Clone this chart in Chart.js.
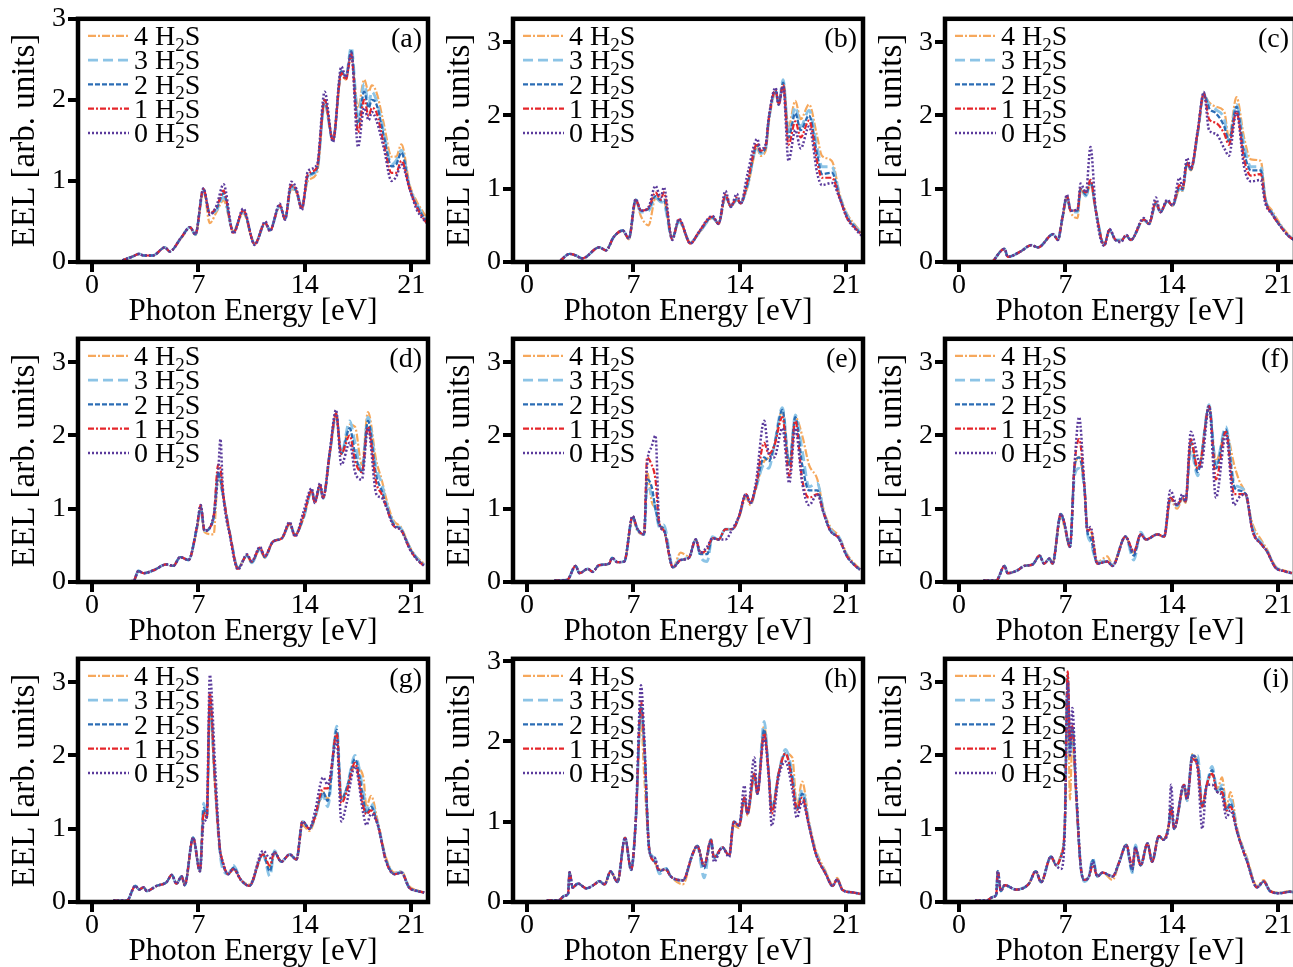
<!DOCTYPE html>
<html>
<head>
<meta charset="utf-8">
<script src="https://cdn.jsdelivr.net/npm/chart.js@4.4.1/dist/chart.umd.min.js"></script>
<style>
  html, body { margin: 0; padding: 0; background: #fff; width: 1293px; height: 967px; overflow: hidden; }
  canvas { position: absolute; }
</style>
</head>
<body>
<script>
// axis ticks and series names
const xTicks = [0, 7, 14, 21];
const yTicks = [0, 1, 2, 3];
const seriesLabels = ['4 H₂S', '3 H₂S', '2 H₂S', '1 H₂S', '0 H₂S'];

// (a)
const energyA = [2.0, 2.7, 3.1, 3.4, 4.0, 4.8, 5.1, 5.9, 6.45, 6.8, 7.33, 7.75, 8.2, 8.65, 9.3, 9.95, 10.7, 11.4, 11.7, 12.35, 12.7, 13.1, 13.45, 13.8, 14.2, 14.8, 15.3, 15.85, 16.4, 16.7, 17.05, 17.5, 17.9, 18.2, 18.4, 18.7, 19.2, 19.7, 20.0, 20.35, 20.9, 21.35, 22.0];
const eelA0 = [0.02,0.07,0.1,0.08,0.08,0.18,0.13,0.31,0.43,0.34,0.91,0.58,0.7,0.96,0.35,0.66,0.21,0.5,0.38,0.72,0.52,0.99,0.9,0.64,1.12,1.2,2.1,1.48,2.41,2.28,2.58,1.42,1.9,1.75,1.85,1.75,1.4,1.0,1.05,1.2,0.9,0.65,0.48];
const eelA1 = [0.02,0.07,0.1,0.08,0.08,0.18,0.13,0.31,0.43,0.34,0.9,0.6,0.68,0.88,0.36,0.64,0.22,0.49,0.38,0.7,0.53,0.95,0.88,0.66,1.08,1.17,2.0,1.5,2.33,2.25,2.56,1.6,2.0,1.8,1.9,1.85,1.45,1.1,1.1,1.25,0.9,0.68,0.48];
const eelA2 = [0.02,0.07,0.1,0.08,0.08,0.18,0.13,0.31,0.43,0.34,0.9,0.6,0.66,0.85,0.37,0.63,0.22,0.48,0.39,0.7,0.53,0.94,0.87,0.67,1.06,1.15,2.0,1.5,2.35,2.27,2.6,1.7,2.1,1.9,2.0,1.95,1.55,1.18,1.2,1.35,0.9,0.7,0.5];
const eelA3 = [0.02,0.07,0.1,0.08,0.08,0.18,0.13,0.31,0.43,0.34,0.88,0.6,0.64,0.8,0.38,0.62,0.23,0.47,0.4,0.69,0.54,0.92,0.86,0.68,1.05,1.13,1.95,1.5,2.35,2.28,2.65,1.8,2.2,1.95,2.1,2.0,1.6,1.2,1.25,1.38,0.92,0.72,0.52];
const eelA4 = [0.02,0.07,0.1,0.08,0.08,0.18,0.13,0.3,0.42,0.33,0.88,0.48,0.62,0.76,0.38,0.6,0.23,0.47,0.4,0.68,0.55,0.9,0.85,0.68,1.0,1.1,1.95,1.52,2.3,2.25,2.55,1.9,2.25,2.1,2.18,2.1,1.7,1.3,1.3,1.45,0.95,0.75,0.55];

// (b)
const energyB = [2.2, 2.8, 3.2, 3.65, 4.75, 5.2, 5.7, 6.3, 6.7, 7.15, 7.5, 8.0, 8.45, 8.8, 9.0, 9.55, 10.0, 10.75, 11.3, 12.2, 12.6, 13.05, 13.4, 13.8, 14.05, 14.5, 15.15, 15.35, 15.7, 15.9, 16.35, 16.55, 16.85, 17.2, 17.65, 18.0, 18.55, 19.1, 19.4, 20.05, 20.6, 21.05, 21.6, 22.0];
const eelB0 = [0.02,0.11,0.09,0.05,0.2,0.16,0.34,0.43,0.32,0.86,0.7,0.75,1.04,0.88,1.02,0.3,0.59,0.25,0.41,0.63,0.52,0.97,0.75,0.93,0.79,1.2,1.68,1.54,1.61,1.97,2.38,2.15,2.4,1.38,1.8,1.55,1.85,1.2,1.05,1.08,0.85,0.6,0.45,0.36];
const eelB1 = [0.02,0.11,0.09,0.05,0.2,0.16,0.34,0.43,0.32,0.85,0.7,0.74,0.95,0.85,0.95,0.31,0.58,0.25,0.41,0.62,0.52,0.92,0.76,0.88,0.8,1.1,1.62,1.52,1.58,1.95,2.35,2.15,2.42,1.6,1.92,1.7,1.93,1.35,1.15,1.15,0.85,0.6,0.46,0.37];
const eelB2 = [0.02,0.11,0.09,0.05,0.2,0.16,0.34,0.43,0.32,0.85,0.7,0.73,0.9,0.84,0.85,0.32,0.57,0.26,0.4,0.61,0.52,0.9,0.76,0.86,0.8,1.06,1.6,1.5,1.56,1.95,2.35,2.15,2.45,1.7,2.03,1.8,2.0,1.45,1.2,1.22,0.86,0.62,0.47,0.38];
const eelB3 = [0.02,0.11,0.09,0.05,0.2,0.16,0.34,0.43,0.32,0.84,0.68,0.7,0.88,0.82,0.8,0.33,0.55,0.27,0.39,0.6,0.53,0.88,0.77,0.84,0.81,1.04,1.58,1.48,1.55,1.93,2.33,2.17,2.49,1.75,2.12,1.85,2.07,1.55,1.3,1.3,0.88,0.64,0.48,0.39];
const eelB4 = [0.02,0.11,0.09,0.05,0.2,0.16,0.34,0.42,0.31,0.83,0.62,0.5,0.87,0.82,0.82,0.33,0.55,0.27,0.39,0.6,0.53,0.88,0.77,0.84,0.81,1.02,1.55,1.45,1.52,1.9,2.3,2.15,2.45,1.85,2.2,1.95,2.15,1.7,1.45,1.38,0.9,0.66,0.5,0.4];

// (c)
const energyC = [2.2, 3.0, 3.2, 4.1, 4.75, 5.2, 6.2, 6.5, 6.8, 7.1, 7.35, 7.8, 8.0, 8.35, 8.65, 9.0, 9.55, 9.9, 10.3, 10.65, 11.0, 11.3, 12.15, 12.5, 12.95, 13.25, 13.7, 14.05, 14.5, 14.7, 15.0, 15.25, 15.7, 16.1, 16.45, 16.9, 17.45, 17.75, 18.25, 18.75, 19.2, 19.85, 20.15, 20.6, 21.1, 21.7, 22.2];
const eelC0 = [0.0,0.18,0.07,0.15,0.23,0.2,0.38,0.3,0.6,0.92,0.7,0.72,1.07,0.95,1.57,0.7,0.22,0.45,0.3,0.27,0.37,0.3,0.6,0.52,0.88,0.68,0.85,0.77,1.15,1.02,1.42,1.28,1.8,2.32,1.8,1.75,1.55,1.45,2.05,1.3,1.1,1.12,0.8,0.65,0.5,0.35,0.28];
const eelC1 = [0.0,0.18,0.07,0.15,0.23,0.2,0.38,0.3,0.6,0.9,0.7,0.72,1.0,0.95,1.12,0.7,0.23,0.44,0.3,0.28,0.37,0.3,0.58,0.52,0.82,0.68,0.84,0.77,1.05,1.0,1.36,1.27,1.78,2.3,1.95,1.9,1.75,1.6,2.05,1.4,1.18,1.2,0.83,0.65,0.5,0.35,0.28];
const eelC2 = [0.0,0.18,0.07,0.15,0.23,0.2,0.38,0.3,0.6,0.9,0.7,0.7,1.0,0.92,1.1,0.7,0.23,0.44,0.3,0.29,0.36,0.3,0.58,0.52,0.8,0.68,0.83,0.77,1.02,0.99,1.35,1.26,1.77,2.3,2.1,2.03,1.85,1.65,2.12,1.5,1.25,1.25,0.85,0.66,0.5,0.35,0.28];
const eelC3 = [0.0,0.18,0.07,0.15,0.23,0.2,0.38,0.3,0.6,0.88,0.7,0.68,0.98,0.9,1.08,0.7,0.24,0.43,0.3,0.3,0.36,0.3,0.57,0.52,0.8,0.68,0.83,0.77,1.0,0.98,1.34,1.26,1.76,2.28,2.15,2.08,1.95,1.65,2.15,1.6,1.3,1.3,0.86,0.67,0.51,0.36,0.28];
const eelC4 = [0.0,0.18,0.07,0.15,0.23,0.2,0.38,0.3,0.58,0.88,0.68,0.6,0.98,0.9,1.06,0.7,0.24,0.43,0.3,0.3,0.36,0.3,0.57,0.52,0.8,0.68,0.83,0.77,0.98,0.97,1.33,1.25,1.75,2.28,2.18,2.12,2.05,1.7,2.25,1.7,1.4,1.38,0.88,0.7,0.53,0.37,0.29];

// (d)
const energyD = [2.0, 2.75, 3.05, 3.4, 4.05, 4.9, 5.35, 5.8, 6.35, 6.9, 7.15, 7.4, 8.0, 8.3, 8.45, 8.6, 9.1, 9.6, 10.2, 10.5, 11.05, 11.35, 11.9, 12.5, 13.0, 13.35, 13.9, 14.45, 14.65, 15.0, 15.2, 15.65, 16.05, 16.4, 16.95, 17.3, 17.75, 18.15, 18.7, 19.05, 19.4, 19.8, 20.35, 20.9, 21.4, 21.85];
const eelD0 = [0.0,0.02,0.15,0.12,0.16,0.24,0.22,0.34,0.3,0.75,1.05,0.7,0.9,1.5,1.95,1.3,0.6,0.17,0.38,0.28,0.48,0.35,0.55,0.6,0.82,0.62,0.95,1.28,1.08,1.35,1.15,1.8,2.35,1.6,1.9,1.5,1.4,2.1,1.2,1.15,1.0,0.78,0.7,0.45,0.3,0.22];
const eelD1 = [0.0,0.02,0.15,0.12,0.16,0.24,0.22,0.34,0.3,0.75,1.05,0.7,0.9,1.6,1.55,1.25,0.62,0.18,0.37,0.28,0.47,0.35,0.55,0.6,0.8,0.63,0.9,1.25,1.08,1.32,1.15,1.78,2.3,1.75,2.0,1.65,1.5,2.12,1.35,1.2,1.0,0.78,0.7,0.45,0.3,0.22];
const eelD2 = [0.0,0.02,0.15,0.12,0.16,0.24,0.22,0.34,0.3,0.75,1.03,0.7,0.88,1.5,1.4,1.2,0.62,0.19,0.36,0.27,0.46,0.34,0.55,0.6,0.8,0.64,0.88,1.25,1.1,1.32,1.15,1.78,2.3,1.75,2.1,1.75,1.5,2.2,1.45,1.25,1.02,0.8,0.71,0.46,0.31,0.23];
const eelD3 = [0.0,0.02,0.15,0.12,0.16,0.24,0.22,0.34,0.3,0.74,1.0,0.7,0.87,1.45,1.35,1.2,0.63,0.2,0.36,0.26,0.45,0.33,0.55,0.6,0.79,0.65,0.87,1.24,1.1,1.3,1.14,1.77,2.28,1.75,2.2,1.9,1.5,2.25,1.55,1.35,1.05,0.82,0.72,0.47,0.32,0.24];
const eelD4 = [0.0,0.02,0.15,0.12,0.16,0.24,0.22,0.34,0.3,0.72,1.0,0.68,0.65,1.45,1.35,1.2,0.63,0.2,0.36,0.26,0.45,0.33,0.55,0.6,0.78,0.65,0.86,1.22,1.1,1.3,1.14,1.75,2.25,1.75,2.15,2.12,1.6,2.32,1.65,1.4,1.1,0.85,0.74,0.48,0.33,0.25];

// (e)
const energyE = [1.8, 2.65, 3.2, 3.45, 4.0, 4.3, 4.75, 5.4, 5.6, 5.95, 6.4, 6.95, 7.25, 7.7, 7.9, 8.2, 8.45, 8.7, 9.0, 9.6, 10.1, 10.65, 11.1, 11.4, 11.85, 12.2, 12.6, 13.05, 13.5, 13.95, 14.4, 14.7, 15.05, 15.6, 15.9, 16.25, 16.8, 17.25, 17.65, 18.1, 18.55, 19.1, 19.5, 19.95, 20.5, 21.05, 21.6, 21.9];
const eelE0 = [0.02,0.03,0.22,0.12,0.18,0.14,0.23,0.25,0.33,0.27,0.28,0.9,0.73,0.65,1.6,1.85,2.0,0.8,0.7,0.2,0.3,0.33,0.58,0.4,0.48,0.6,0.58,0.58,0.72,0.9,1.2,1.08,1.35,2.2,1.75,1.7,2.1,1.35,2.1,1.35,1.05,1.2,0.95,0.7,0.6,0.35,0.22,0.17];
const eelE1 = [0.02,0.03,0.22,0.12,0.18,0.14,0.23,0.25,0.33,0.27,0.28,0.9,0.73,0.65,1.7,1.6,1.4,0.8,0.7,0.2,0.3,0.33,0.58,0.4,0.45,0.6,0.58,0.72,0.72,0.9,1.2,1.08,1.3,1.9,1.75,1.85,2.25,1.45,2.2,1.4,1.15,1.2,0.95,0.7,0.6,0.35,0.22,0.17];
const eelE2 = [0.02,0.03,0.22,0.12,0.18,0.14,0.23,0.25,0.33,0.27,0.28,0.9,0.73,0.65,1.4,1.3,1.0,0.78,0.72,0.2,0.3,0.33,0.58,0.38,0.38,0.6,0.58,0.72,0.72,0.9,1.2,1.08,1.3,1.7,1.65,1.85,2.35,1.6,2.25,1.6,1.25,1.25,0.95,0.7,0.6,0.35,0.22,0.17];
const eelE3 = [0.02,0.03,0.22,0.12,0.18,0.14,0.23,0.25,0.33,0.27,0.28,0.88,0.72,0.65,1.3,1.2,1.0,0.75,0.78,0.2,0.32,0.33,0.58,0.35,0.28,0.62,0.58,0.72,0.72,0.9,1.18,1.07,1.28,1.6,1.55,1.85,2.38,1.6,2.28,1.8,1.3,1.35,0.97,0.72,0.62,0.36,0.22,0.17];
const eelE4 = [0.02,0.03,0.22,0.12,0.18,0.14,0.23,0.25,0.33,0.27,0.28,0.88,0.7,0.65,1.5,1.1,1.0,0.8,0.72,0.2,0.4,0.35,0.58,0.4,0.4,0.6,0.58,0.72,0.72,0.88,1.15,1.05,1.27,1.65,1.7,1.85,2.35,1.6,2.25,2.0,1.6,1.4,1.0,0.75,0.63,0.38,0.24,0.18];

// (f)
const energyF = [1.6, 2.45, 3.0, 3.2, 3.85, 4.3, 4.85, 5.3, 5.6, 5.95, 6.15, 6.7, 6.9, 7.3, 7.6, 7.9, 8.25, 8.45, 8.65, 9.1, 9.75, 10.1, 10.95, 11.5, 11.95, 12.3, 13.05, 13.5, 13.9, 14.35, 14.7, 14.9, 15.25, 15.7, 15.9, 16.45, 16.9, 17.55, 18.1, 18.4, 18.85, 19.3, 19.95, 20.25, 20.8, 21.35, 21.9];
const eelF0 = [0.02,0.02,0.22,0.12,0.16,0.22,0.24,0.36,0.25,0.32,0.25,0.93,0.83,0.48,1.6,2.25,1.3,0.7,0.75,0.25,0.28,0.22,0.62,0.4,0.65,0.58,0.65,0.62,1.25,1.05,1.2,1.1,2.05,1.7,1.55,2.4,1.15,2.0,1.05,1.15,1.2,0.7,0.5,0.42,0.2,0.15,0.12];
const eelF1 = [0.02,0.02,0.22,0.12,0.16,0.22,0.24,0.36,0.25,0.32,0.25,0.93,0.83,0.48,1.6,1.95,1.3,0.7,0.72,0.25,0.28,0.22,0.62,0.42,0.65,0.58,0.65,0.62,1.15,1.05,1.15,1.1,1.95,1.55,1.65,2.4,1.4,2.05,1.2,1.2,1.2,0.7,0.5,0.42,0.2,0.15,0.12];
const eelF2 = [0.02,0.02,0.22,0.12,0.16,0.22,0.24,0.36,0.25,0.32,0.25,0.93,0.83,0.48,1.58,1.7,1.3,0.68,0.6,0.25,0.28,0.22,0.62,0.36,0.65,0.58,0.65,0.62,1.15,1.05,1.15,1.1,1.92,1.5,1.65,2.4,1.55,2.08,1.3,1.25,1.2,0.72,0.5,0.42,0.2,0.15,0.12];
const eelF3 = [0.02,0.02,0.22,0.12,0.16,0.22,0.24,0.36,0.25,0.32,0.25,0.92,0.82,0.48,1.45,1.55,1.28,0.66,0.55,0.26,0.3,0.23,0.62,0.3,0.68,0.58,0.65,0.62,1.14,1.04,1.15,1.1,1.8,1.45,1.65,2.42,1.6,2.12,1.35,1.3,1.22,0.75,0.52,0.43,0.21,0.15,0.12];
const eelF4 = [0.02,0.02,0.22,0.12,0.16,0.22,0.24,0.36,0.25,0.32,0.25,0.9,0.78,0.48,1.55,1.7,1.28,0.7,0.7,0.27,0.35,0.24,0.62,0.4,0.65,0.58,0.65,0.62,1.12,1.0,1.13,1.08,1.9,1.55,1.65,2.38,1.65,2.05,1.6,1.4,1.2,0.8,0.55,0.45,0.22,0.16,0.13];

// (g)
const energyG = [1.4, 2.3, 2.85, 3.1, 3.4, 3.6, 4.25, 4.9, 5.25, 5.55, 5.9, 6.1, 6.65, 7.1, 7.35, 7.55, 7.75, 8.1, 8.4, 8.6, 8.95, 9.3, 9.8, 10.35, 11.25, 11.7, 12.0, 12.45, 13.0, 13.45, 13.85, 14.3, 14.65, 15.2, 15.5, 16.1, 16.4, 16.75, 17.3, 17.85, 18.05, 18.35, 18.8, 19.35, 19.9, 20.35, 20.85, 21.4, 21.85];
const eelG0 = [0.02,0.02,0.22,0.17,0.2,0.15,0.22,0.27,0.37,0.25,0.35,0.23,0.88,0.42,1.1,1.15,3.1,1.85,0.75,0.55,0.38,0.45,0.3,0.22,0.7,0.6,0.68,0.55,0.65,0.58,1.1,1.0,1.22,1.7,1.6,2.2,1.1,1.35,1.85,1.2,1.05,1.2,1.05,0.55,0.38,0.4,0.2,0.15,0.13];
const eelG1 = [0.02,0.02,0.22,0.17,0.2,0.15,0.22,0.27,0.37,0.25,0.35,0.23,0.88,0.42,1.22,1.15,2.85,1.6,0.75,0.55,0.38,0.45,0.3,0.22,0.65,0.5,0.68,0.55,0.65,0.58,1.1,1.0,1.15,1.55,1.55,2.3,1.35,1.5,1.9,1.3,1.2,1.25,1.05,0.55,0.38,0.4,0.2,0.15,0.13];
const eelG2 = [0.02,0.02,0.22,0.17,0.2,0.15,0.22,0.27,0.37,0.25,0.35,0.23,0.88,0.42,1.28,1.15,2.75,1.6,0.75,0.52,0.38,0.47,0.3,0.22,0.65,0.42,0.68,0.55,0.65,0.58,1.1,1.0,1.15,1.5,1.38,2.35,1.4,1.55,1.95,1.4,1.2,1.3,1.05,0.56,0.38,0.4,0.2,0.15,0.13];
const eelG3 = [0.02,0.02,0.22,0.17,0.2,0.15,0.22,0.27,0.37,0.25,0.35,0.23,0.88,0.42,1.35,1.15,2.7,1.6,0.7,0.45,0.38,0.5,0.3,0.22,0.65,0.35,0.7,0.55,0.65,0.58,1.1,1.0,1.15,1.45,1.3,2.4,1.4,1.55,2.0,1.5,1.25,1.35,1.07,0.57,0.39,0.41,0.2,0.15,0.13];
const eelG4 = [0.02,0.02,0.22,0.17,0.2,0.15,0.22,0.27,0.37,0.25,0.35,0.23,0.86,0.42,1.25,1.15,2.6,1.55,0.75,0.55,0.38,0.45,0.3,0.24,0.65,0.48,0.68,0.55,0.65,0.58,1.05,0.97,1.12,1.5,1.4,2.3,1.4,1.55,1.85,1.7,1.3,1.45,1.1,0.6,0.4,0.42,0.22,0.16,0.13];

// (h)
const energyH = [1.3, 2.05, 2.5, 2.7, 2.8, 3.0, 3.35, 3.9, 4.45, 4.75, 5.1, 5.5, 5.95, 6.45, 6.85, 7.15, 7.5, 7.7, 8.05, 8.4, 8.7, 9.15, 9.45, 10.25, 10.9, 11.2, 11.65, 12.1, 12.3, 12.85, 13.3, 13.6, 13.95, 14.3, 14.5, 14.95, 15.15, 15.6, 15.9, 16.1, 16.55, 17.0, 17.45, 17.75, 18.1, 18.55, 19.0, 19.65, 20.1, 20.4, 20.75, 21.4, 21.95];
const eelH0 = [0.02,0.02,0.08,0.1,0.37,0.18,0.23,0.17,0.22,0.26,0.22,0.38,0.25,0.8,0.4,1.0,2.7,2.1,0.62,0.55,0.4,0.4,0.32,0.27,0.6,0.7,0.45,0.75,0.5,0.68,0.56,1.0,0.95,1.45,1.1,1.8,1.35,2.05,1.55,0.95,1.55,1.75,1.4,1.05,1.25,0.95,0.6,0.35,0.2,0.28,0.15,0.12,0.1];
const eelH1 = [0.02,0.02,0.08,0.1,0.37,0.18,0.23,0.17,0.22,0.26,0.22,0.38,0.25,0.8,0.4,1.0,2.5,2.0,0.65,0.5,0.4,0.4,0.32,0.27,0.6,0.7,0.45,0.78,0.55,0.68,0.58,1.0,0.95,1.3,1.1,1.6,1.35,2.1,1.6,1.1,1.6,1.85,1.5,1.15,1.3,0.95,0.6,0.35,0.2,0.28,0.15,0.12,0.1];
const eelH2 = [0.02,0.02,0.08,0.1,0.37,0.18,0.23,0.17,0.22,0.26,0.22,0.38,0.25,0.8,0.4,1.0,2.45,2.0,0.65,0.5,0.38,0.42,0.32,0.27,0.6,0.7,0.42,0.78,0.55,0.68,0.58,1.0,0.95,1.3,1.1,1.6,1.35,2.15,1.6,1.15,1.6,1.85,1.55,1.15,1.35,0.95,0.6,0.35,0.2,0.28,0.15,0.12,0.1];
const eelH3 = [0.02,0.02,0.08,0.1,0.37,0.18,0.23,0.17,0.22,0.26,0.22,0.38,0.25,0.8,0.4,1.0,2.4,2.0,0.65,0.55,0.35,0.42,0.32,0.27,0.6,0.7,0.3,0.78,0.55,0.68,0.58,1.0,0.95,1.28,1.1,1.58,1.35,2.25,1.6,1.15,1.6,1.9,1.6,1.15,1.4,0.97,0.62,0.36,0.2,0.28,0.15,0.12,0.1];
const eelH4 = [0.02,0.02,0.08,0.1,0.37,0.18,0.23,0.17,0.22,0.26,0.22,0.38,0.25,0.8,0.4,1.0,2.3,1.6,0.65,0.5,0.4,0.4,0.32,0.22,0.6,0.7,0.45,0.75,0.55,0.68,0.58,0.95,0.92,1.28,1.08,1.55,1.35,2.2,1.6,1.15,1.6,1.85,1.8,1.2,1.5,1.0,0.65,0.38,0.22,0.3,0.16,0.12,0.1];

// (i)
const energyI = [1.05, 1.8, 2.25, 2.45, 2.55, 2.75, 3.0, 3.75, 4.6, 5.05, 5.4, 6.05, 6.4, 6.7, 6.95, 7.15, 7.3, 7.45, 7.7, 8.0, 8.25, 8.55, 8.8, 9.1, 9.45, 10.1, 10.55, 11.0, 11.4, 11.6, 11.95, 12.4, 12.7, 13.15, 13.45, 13.8, 13.95, 14.15, 14.8, 15.0, 15.35, 15.7, 16.0, 16.3, 16.65, 17.0, 17.3, 17.6, 17.85, 18.3, 18.95, 19.6, 20.05, 20.45, 21.1, 21.75, 22.2];
const eelI0 = [0.02,0.02,0.07,0.1,0.42,0.15,0.23,0.17,0.25,0.42,0.27,0.62,0.5,0.45,0.9,3.0,2.0,2.65,1.6,0.5,0.3,0.35,0.55,0.35,0.4,0.35,0.55,0.78,0.45,0.75,0.5,0.8,0.55,0.9,0.85,1.05,1.6,1.0,1.6,1.4,2.0,1.8,1.0,1.6,1.6,1.5,1.45,1.15,1.25,0.95,0.55,0.2,0.28,0.15,0.12,0.14,0.13];
const eelI1 = [0.02,0.02,0.07,0.1,0.42,0.15,0.23,0.17,0.25,0.42,0.27,0.62,0.5,0.62,1.0,3.15,2.2,2.4,1.5,0.5,0.3,0.35,0.5,0.35,0.4,0.35,0.55,0.78,0.5,0.72,0.5,0.8,0.55,0.9,0.85,1.05,1.3,1.0,1.6,1.4,1.95,1.85,1.3,1.6,1.75,1.5,1.5,1.25,1.3,0.95,0.55,0.2,0.28,0.15,0.12,0.14,0.13];
const eelI2 = [0.02,0.02,0.07,0.1,0.42,0.15,0.23,0.17,0.25,0.42,0.27,0.62,0.5,0.62,1.0,3.1,2.1,2.4,1.5,0.5,0.3,0.35,0.57,0.35,0.4,0.35,0.55,0.78,0.42,0.75,0.5,0.8,0.55,0.9,0.85,1.05,1.3,1.0,1.6,1.4,2.0,1.9,1.3,1.6,1.8,1.5,1.55,1.25,1.35,0.95,0.55,0.2,0.28,0.15,0.12,0.14,0.13];
const eelI3 = [0.02,0.02,0.07,0.1,0.42,0.15,0.23,0.17,0.25,0.42,0.27,0.62,0.5,0.62,1.0,3.05,2.0,2.4,1.5,0.5,0.28,0.35,0.6,0.35,0.4,0.35,0.55,0.78,0.4,0.78,0.5,0.8,0.55,0.9,0.85,1.05,1.3,1.0,1.58,1.38,2.0,2.0,1.3,1.6,1.85,1.5,1.6,1.25,1.4,0.97,0.57,0.2,0.28,0.15,0.12,0.14,0.13];
const eelI4 = [0.02,0.02,0.07,0.1,0.42,0.15,0.23,0.17,0.25,0.42,0.27,0.62,0.5,0.65,1.0,2.9,1.4,2.2,1.5,0.5,0.3,0.35,0.55,0.35,0.4,0.3,0.55,0.78,0.45,0.75,0.5,0.8,0.55,0.9,0.85,1.05,1.3,1.0,1.55,1.38,2.02,1.85,1.3,1.6,1.75,1.55,1.7,1.3,1.5,1.0,0.6,0.22,0.3,0.16,0.13,0.15,0.14];

const panels = [
    { tag: '(a)', energy: energyA, eel: [eelA4, eelA3, eelA2, eelA1, eelA0], yMax: 3.0 },
    { tag: '(b)', energy: energyB, eel: [eelB4, eelB3, eelB2, eelB1, eelB0], yMax: 3.32 },
    { tag: '(c)', energy: energyC, eel: [eelC4, eelC3, eelC2, eelC1, eelC0], yMax: 3.32 },
    { tag: '(d)', energy: energyD, eel: [eelD4, eelD3, eelD2, eelD1, eelD0], yMax: 3.32 },
    { tag: '(e)', energy: energyE, eel: [eelE4, eelE3, eelE2, eelE1, eelE0], yMax: 3.32 },
    { tag: '(f)', energy: energyF, eel: [eelF4, eelF3, eelF2, eelF1, eelF0], yMax: 3.32 },
    { tag: '(g)', energy: energyG, eel: [eelG4, eelG3, eelG2, eelG1, eelG0], yMax: 3.32 },
    { tag: '(h)', energy: energyH, eel: [eelH4, eelH3, eelH2, eelH1, eelH0], yMax: 3.03 },
    { tag: '(i)', energy: energyI, eel: [eelI4, eelI3, eelI2, eelI1, eelI0], yMax: 3.32 },
];

// line styles, same order as seriesLabels
const seriesColors = ['#f6a85c', '#8cc4e6', '#2b6db5', '#e5262b', '#5b3b9c'];
const seriesDashes = [[8, 2, 2, 2], [10, 5], [5, 2], [6, 2, 2, 2], [2, 2]];
const seriesWidths = [2.2, 2.8, 2.3, 2.2, 2.5];

const serif = "'Liberation Serif', 'DejaVu Serif', serif";
const colLeft = [78, 513, 945];   // left edge of each plot frame
const rowTop = [18, 338, 658];    // top edge of each plot frame

// frame, legend and panel tag
const panelDecor = {
    id: 'panelDecor',
    afterDraw(chart, args, opts) {
        const { ctx, chartArea: a } = chart;
        ctx.save();
        chart.data.datasets.forEach((ds, i) => {
            const y = a.top + 17 + i * 24.3;
            ctx.strokeStyle = ds.borderColor;
            ctx.lineWidth = ds.borderWidth;
            ctx.setLineDash(ds.borderDash);
            ctx.beginPath();
            ctx.moveTo(a.left + 10, y);
            ctx.lineTo(a.left + 51, y);
            ctx.stroke();

            // "4 H" + subscript "2" + "S"
            const parts = ds.label.split('₂');
            ctx.setLineDash([]);
            ctx.fillStyle = '#000';
            ctx.textBaseline = 'middle';
            ctx.textAlign = 'left';
            ctx.font = '28px ' + serif;
            let x = a.left + 56;
            ctx.fillText(parts[0], x, y + 2);
            x += ctx.measureText(parts[0]).width;
            ctx.font = '19px ' + serif;
            ctx.fillText('2', x, y + 10);
            x += ctx.measureText('2').width;
            ctx.font = '28px ' + serif;
            ctx.fillText(parts[1], x, y + 2);
        });

        ctx.font = '28px ' + serif;
        ctx.textAlign = 'right';
        ctx.textBaseline = 'middle';
        ctx.fillStyle = '#000';
        ctx.fillText(opts.tag, a.right - 6, a.top + 21);

        ctx.setLineDash([]);
        ctx.lineWidth = 4.5;
        ctx.strokeStyle = '#000';
        ctx.strokeRect(a.left, a.top, a.right - a.left, a.bottom - a.top);
        ctx.restore();
    }
};

panels.forEach((p, k) => {
    const col = k % 3;
    const row = Math.floor(k / 3);
    const cv = document.createElement('canvas');
    cv.width = 434;
    cv.height = 330;
    cv.style.left = (colLeft[col] - 78) + 'px';
    cv.style.top = (rowTop[row] - 18) + 'px';
    document.body.appendChild(cv);

    const datasets = seriesLabels.map((label, s) => ({
        label: label,
        data: p.energy.map((e, i) => ({ x: e, y: p.eel[s][i] })),
        borderColor: seriesColors[s],
        borderDash: seriesDashes[s],
        borderWidth: seriesWidths[s],
        pointRadius: 0,
        fill: false,
        cubicInterpolationMode: 'monotone',
        order: 4 - s,
    }));

    new Chart(cv.getContext('2d'), {
        type: 'line',
        data: { datasets: datasets },
        plugins: [panelDecor],
        options: {
            responsive: false,
            animation: false,
            layout: { padding: { top: 18, right: 6, left: 0, bottom: 0 } },
            plugins: {
                legend: { display: false },
                tooltip: { enabled: false },
                panelDecor: { tag: p.tag },
            },
            scales: {
                x: {
                    type: 'linear',
                    min: -0.92,
                    max: 22.1,
                    afterBuildTicks: (s) => { s.ticks = xTicks.map(v => ({ value: v })); },
                    afterFit: (s) => { s.height = 68; },
                    border: { display: false },
                    grid: { drawOnChartArea: false, drawTicks: true, tickLength: 10, lineWidth: 4, tickWidth: 4, tickColor: '#000' },
                    ticks: { color: '#000', font: { family: serif, size: 28 }, padding: -3, maxRotation: 0, autoSkip: false },
                    title: { display: true, text: 'Photon Energy [eV]', color: '#000', font: { family: serif, size: 31 }, padding: { top: 0, bottom: 0 } }
                },
                y: {
                    type: 'linear',
                    min: 0,
                    max: p.yMax,
                    afterBuildTicks: (s) => { s.ticks = yTicks.map(v => ({ value: v })); },
                    afterFit: (s) => { s.width = 78; },
                    border: { display: false },
                    grid: { drawOnChartArea: false, drawTicks: true, tickLength: 10, lineWidth: 4, tickWidth: 4, tickColor: '#000' },
                    ticks: { color: '#000', font: { family: serif, size: 28 }, padding: 2, autoSkip: false },
                    title: { display: true, text: 'EEL [arb. units]', color: '#000', font: { family: serif, size: 33 }, padding: { top: 6, bottom: 0 } }
                }
            }
        }
    });
});
</script>
</body>
</html>
